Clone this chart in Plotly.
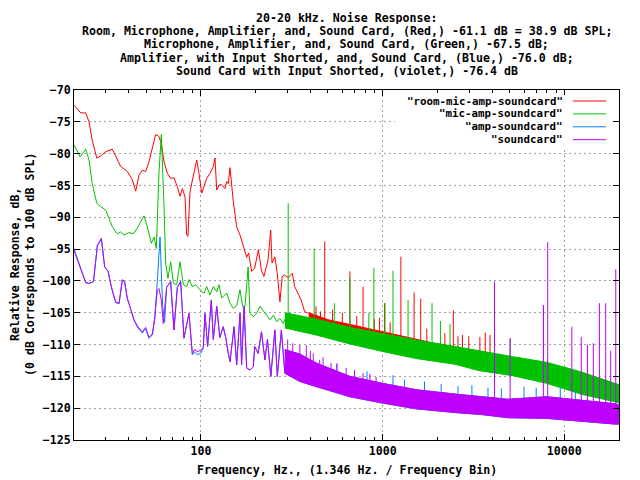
import plotly.graph_objects as go

# ------------------------------------------------------------------
# Data (frequency in Hz, level in dB)
# ------------------------------------------------------------------
# Low-frequency part of each spectrum (individually visible points)
red_f = [20, 21.8, 23.2, 24.2, 25.2, 26.7, 28.0, 29.9, 32.5, 33.9, 36.1, 39.3, 41.9, 43.7,
         45.6, 47.5, 49.6, 51.7, 54.0, 56.3, 58.7, 60.5, 62.6, 65.3, 68.1, 71.0, 74.1, 76.7,
         79.0, 81.7, 83.4, 84.8, 87.0, 90.8, 94.7, 97.5, 100.9, 107.5, 112.1, 116.9, 119.4,
         122.1, 126.1, 130.0, 135.6, 138.5, 141.4, 144.4, 150.6, 157.2, 164.0, 171.0, 178.5,
         183, 190, 197.5, 207, 215, 222, 234, 242, 246, 255, 263, 272, 280, 289, 302, 318,
         328, 343, 356, 372, 392]
red_db = [-72.4, -73.6, -73.6, -75.0, -77.9, -80.7, -80.4, -79.7, -79.3, -80.4, -82.0, -82.8,
          -84.1, -85.9, -83.4, -82.6, -82.8, -81.3, -78.9, -77.0, -77.3, -78.4, -81.3, -83.1,
          -83.9, -83.8, -85.2, -86.7, -85.5, -86.8, -92.8, -93.0, -86.0, -83.6, -81.0, -83.1,
          -86.2, -83.9, -83.1, -82.0, -80.7, -85.7, -84.9, -84.9, -85.5, -84.4, -84.7, -82.2,
          -87.5, -91.5, -92.8, -94.5, -96.3, -95.6, -98.5, -98.0, -95.1, -98.3, -99.3, -96.7,
          -92.0, -97.2, -96.2, -98.8, -103.3, -99.3, -99.1, -99.5, -98.8, -100.9, -102.2,
          -103.0, -104.8, -105.1]

green_f = [20, 21.6, 23.2, 24.2, 25.2, 26.7, 28.0, 29.9, 31.2, 32.5, 34.6, 36.1, 37.7, 40.2,
           42.4, 44.6, 46.6, 48.6, 50.7, 53.3, 55.1, 56.8, 58.7, 60.5, 62.6, 63.9, 65.8, 68.1,
           70.5, 73.5, 76.7, 80.0, 83.4, 85.9, 89.6, 93.5, 97.5, 101.7, 104.3, 107.5, 112.1,
           116.9, 122.1, 125.6, 130.0, 138.5, 144.4, 150.6, 157.2, 164.0, 169.4, 174.7, 181.8,
           186.1, 194.1, 202.6, 211.3, 220.5, 229.9, 239.8, 250.1, 261.0, 272.2, 284, 290]
green_db = [-78.6, -80.5, -79.3, -81.0, -84.7, -87.8, -88.3, -88.9, -90.2, -91.5, -92.6, -92.3,
            -92.8, -92.4, -92.6, -91.7, -90.7, -89.8, -91.5, -94.1, -93.1, -94.9, -83.1, -77.0,
            -88.3, -97.2, -99.6, -97.0, -100.4, -100.6, -97.0, -100.6, -100.9, -99.8, -100.9,
            -100.6, -101.2, -101.8, -101.9, -100.9, -102.2, -100.9, -101.7, -100.6, -102.7,
            -101.9, -103.5, -104.3, -103.9, -101.4, -104.0, -104.0, -97.8, -105.1, -105.6,
            -105.1, -104.0, -104.8, -105.4, -106.1, -105.4, -106.4, -105.9, -106.7, -106.0]

amp_f = [20, 21.3, 22.2, 23.2, 24.2, 25.6, 26.9, 28.3, 29.5, 30.8, 32.1, 33.9, 35.4, 36.9,
         38.0, 39.3, 41.0, 42.8, 45.0, 47.5, 49.6, 51.7, 54.0, 55.6, 57.5, 59.5, 61.5, 63.1,
         64.7, 68.1, 71.0, 74.1, 77.3, 80.6, 85.9, 89.6, 92.3, 95.5, 99.6, 103.0, 105.2, 108.8,
         114.0, 116.9, 122.1, 127.0, 132.6, 136.8, 141.4, 144.4, 152.1, 157.2, 164.0, 167.3,
         172.6, 178.5, 186.1, 194.1, 197.6, 206.3, 215.3, 224.9, 232.3, 242.4, 255.1, 263.2,
         277, 289.4]
amp_db = [-95.0, -97.1, -98.7, -100.2, -100.4, -100.1, -94.5, -93.4, -97.8, -98.5, -101.0,
          -103.4, -103.6, -99.9, -100.2, -102.8, -104.4, -106.2, -107.4, -108.2, -107.5,
          -109.0, -108.5, -106.0, -100.0, -93.1, -104.0, -106.5, -101.0, -100.1, -107.7,
          -101.0, -100.1, -109.0, -105.1, -111.6, -111.2, -111.6, -111.4, -110.6, -105.1,
          -110.3, -103.0, -109.2, -104.0, -108.9, -107.2, -108.9, -111.4, -112.7, -107.2,
          -113.2, -105.1, -113.2, -104.0, -113.7, -114.0, -113.5, -110.3, -111.4, -108.0,
          -112.4, -109.2, -115.0, -107.7, -115.0, -107.7, -114.5]

sc_f = [20, 21.3, 22.2, 23.2, 24.2, 25.6, 26.9, 28.3, 29.5, 30.8, 32.1, 33.9, 35.4, 36.9,
        38.0, 39.3, 41.0, 42.8, 45.0, 47.5, 49.6, 51.7, 54.0, 55.6, 57.5, 58.7, 60.5, 62.0,
        64.7, 68.1, 71.0, 74.1, 77.3, 80.6, 85.9, 89.6, 92.3, 95.5, 99.6, 103.0, 105.2, 108.8,
        114.0, 116.9, 122.1, 127.0, 132.6, 136.8, 141.4, 144.4, 152.1, 157.2, 164.0, 167.3,
        172.6, 178.5, 186.1, 194.1, 197.6, 206.3, 215.3, 224.9, 232.3, 242.4, 255.1, 263.2,
        277, 289.4]
sc_db = [-95.2, -97.2, -98.8, -100.3, -100.4, -100.1, -94.4, -93.3, -97.8, -98.5, -100.9,
         -103.3, -103.5, -99.8, -100.1, -102.7, -104.3, -106.1, -107.2, -108.0, -107.3,
         -108.9, -108.3, -105.9, -101.5, -101.2, -103.0, -106.7, -101.0, -100.1, -107.7,
         -101.0, -100.1, -109.0, -105.1, -111.4, -110.8, -111.1, -110.9, -110.4, -105.1,
         -110.3, -103.0, -109.2, -104.0, -108.9, -107.2, -108.9, -111.4, -112.7, -107.2,
         -113.2, -105.1, -113.2, -104.0, -113.7, -114.0, -113.5, -110.3, -111.4, -108.0,
         -112.4, -109.2, -115.0, -107.7, -115.0, -107.7, -114.5]

# Dense high-frequency noise: lower / upper envelope of each spectrum
red_band_f = [392, 500, 700, 1000, 1500, 2000, 3000, 5000, 8000, 12400, 20000]
red_hi = [-105.0, -106.1, -107.0, -108.0, -109.1, -109.9, -110.8, -111.9, -113.0, -114.5, -116.5]
red_lo = [-107.5, -108.3, -109.5, -110.8, -111.9, -112.4, -113.4, -114.5, -115.6, -117.4, -118.8]

green_band_f = [290, 430, 660, 1000, 1530, 2500, 3400, 5200, 8000, 12400, 19000, 20000]
green_hi = [-105.0, -106.0, -107.3, -108.3, -109.3, -110.3, -111.0, -111.9, -112.8, -114.3,
            -116.1, -116.3]
green_lo = [-107.4, -108.5, -109.9, -111.1, -112.2, -113.1, -114.1, -114.9, -116.1, -117.8,
            -119.0, -119.2]

low_band_f = [289.4, 350, 430, 660, 1000, 1530, 2540, 3500, 4900, 8000, 12400, 19000, 20000]
amp_hi = [-110.8, -111.5, -112.9, -115.0, -116.1, -117.1, -117.8, -118.2, -118.6, -118.2,
          -118.7, -119.3, -119.5]
amp_lo = [-114.5, -115.8, -116.6, -118.2, -119.2, -120.1, -120.7, -121.0, -121.5, -121.6,
          -122.0, -122.5, -122.5]
sc_hi = [-110.8, -111.5, -112.9, -115.0, -116.1, -117.1, -117.8, -118.2, -118.6, -118.2,
         -118.7, -119.3, -119.5]
sc_lo = [-114.5, -115.8, -116.6, -118.2, -119.2, -120.1, -120.7, -121.0, -121.5, -121.6,
         -122.0, -122.5, -122.5]

# Narrow spectral lines: frequency, foot and peak level
red_spk_f = [430, 455, 480, 530, 600, 660, 720, 780, 900, 960, 1025, 1100, 1260, 1490, 1620,
             1750, 2200, 2450, 2600, 2750, 2980, 3430, 3670, 3900]
red_spk_lo = [-107.0, -107.0, -107.0, -107.5, -107.5, -108.0, -108.0, -108.5, -109.0, -109.0,
              -109.5, -109.5, -110.0, -110.0, -110.5, -110.5, -111.0, -111.0, -111.5, -111.5,
              -112.0, -112.0, -112.5, -112.5]
red_spk_hi = [-104.0, -104.8, -93.8, -104.5, -105.0, -98.5, -105.5, -100.9, -106.0, -105.8,
              -103.5, -106.5, -96.2, -101.8, -102.8, -107.5, -108.2, -104.6, -108.7, -108.5,
              -108.7, -108.8, -108.1, -108.5]

green_spk_f = [302, 420, 542, 660, 840, 895, 1030, 1140, 1380, 1870, 2080, 2350, 4130, 5030, 7670]
green_spk_lo = [-106.0, -107.0, -107.5, -108.0, -108.5, -108.5, -109.0, -109.5, -110.0,
                -110.5, -111.0, -111.0, -112.5, -113.0, -114.0]
green_spk_hi = [-87.8, -94.9, -103.5, -99.5, -105.0, -98.0, -103.5, -98.4, -103.0, -103.5,
                -106.3, -106.8, -100.1, -109.0, -103.8]

amp_spk_f = [560, 820, 1140, 1320, 1700, 2100, 2600, 3100, 3800, 4500, 6000, 7000, 9500, 11500]
amp_spk_lo = [-116.5, -117.5, -118.0, -118.5, -118.5, -119.0, -119.0, -119.0, -119.5, -119.5,
              -119.5, -119.5, -119.5, -120.0]
amp_spk_hi = [-113.0, -114.2, -114.8, -115.5, -115.8, -116.2, -116.5, -116.4, -116.8, -116.9,
              -116.6, -116.8, -116.8, -117.2]

sc_spk_f = [300, 320, 350, 380, 400, 415, 450, 470, 520, 560, 630, 700, 780, 850, 920,
            4130, 5030, 7670, 8100, 11000, 12400, 13400, 14440, 15600, 16900, 18000, 19200]
sc_spk_lo = [-113.0, -113.5, -113.5, -114.0, -114.5, -114.5, -115.0, -115.5, -116.0, -116.0,
             -116.5, -117.0, -117.0, -117.5, -117.5,
             -119.5, -119.5, -119.5, -119.5, -120.0, -120.0, -120.0, -120.0, -120.5, -120.5,
             -120.5, -120.5]
sc_spk_hi = [-109.2, -109.8, -110.1, -110.1, -111.0, -111.4, -112.4, -112.0, -112.9, -113.0,
             -113.7, -114.0, -114.5, -114.6, -115.1,
             -100.1, -109.0, -103.8, -93.9, -107.2, -108.8, -110.0, -109.8, -103.5, -103.5,
             -111.0, -98.2]

series_names = ['"room-mic-amp-soundcard"', '"mic-amp-soundcard"', '"amp-soundcard"', '"soundcard"']
x_ticks = [100, 1000, 10000]
title_lines = [
    "20-20 kHz. Noise Response:",
    "Room, Microphone, Amplifier, and, Sound Card, (Red,) -61.1 dB = 38.9 dB SPL;",
    "Microphone, Amplifier, and, Sound Card, (Green,) -67.5 dB;",
    "Amplifier, with Input Shorted, and, Sound Card, (Blue,) -76.0 dB;",
    "Sound Card with Input Shorted, (violet,) -76.4 dB",
]

# ------------------------------------------------------------------
COLORS = ["#ff0000", "#00c000", "#0080ff", "#c000ff"]
FONT = dict(family="DejaVu Sans Mono", size=11.6, color="black", weight="bold")
KEY_FONT = dict(family="DejaVu Sans Mono", size=10.8, color="black", weight="bold")

series = [
    (red_f, red_db, red_band_f, red_lo, red_hi, red_spk_f, red_spk_lo, red_spk_hi),
    (green_f, green_db, green_band_f, green_lo, green_hi, green_spk_f, green_spk_lo, green_spk_hi),
    (amp_f, amp_db, low_band_f, amp_lo, amp_hi, amp_spk_f, amp_spk_lo, amp_spk_hi),
    (sc_f, sc_db, low_band_f, sc_lo, sc_hi, sc_spk_f, sc_spk_lo, sc_spk_hi),
]

fig = go.Figure()
for (tf, tdb, bf, blo, bhi, sf, slo, shi), col in zip(series, COLORS):
    fig.add_trace(go.Scatter(x=tf, y=tdb, mode="lines", line=dict(color=col, width=1),
                             showlegend=False, hoverinfo="skip"))
    fig.add_trace(go.Scatter(x=list(bf) + list(bf)[::-1], y=list(bhi) + list(blo)[::-1],
                             mode="lines", fill="toself", fillcolor=col,
                             line=dict(color=col, width=1), showlegend=False, hoverinfo="skip"))
    xs, ys = [], []
    for f, lo, hi in zip(sf, slo, shi):
        xs += [f, f, None]
        ys += [lo, hi, None]
    fig.add_trace(go.Scatter(x=xs, y=ys, mode="lines", line=dict(color=col, width=1),
                             showlegend=False, hoverinfo="skip"))

# plot area: 74..619 px horizontally, 90..440 px vertically
L, R, T, B = 74, 21, 90, 40
PW, PH = 640 - L - R, 480 - T - B


def px(x):
    return (x - L) / PW


def py(y):
    return (480 - B - y) / PH


annotations = []
for i, line in enumerate(title_lines):
    annotations.append(dict(text=line, x=0.5, y=py(18 + 13.2 * i), xref="paper", yref="paper",
                            xanchor="center", yanchor="middle", showarrow=False, font=FONT,
                            height=12))
annotations.append(dict(text="Frequency, Hz., (1.346 Hz. / Frequency Bin)", x=0.5, y=py(470),
                        xref="paper", yref="paper", xanchor="center", yanchor="middle",
                        showarrow=False, font=FONT))
annotations.append(dict(text="Relative Response, dB,<br>(0 dB Corresponds to 100 dB SPL)",
                        x=px(22), y=0.5, xref="paper", yref="paper", xanchor="center",
                        yanchor="middle", textangle=-90, showarrow=False, font=FONT))

shapes = [dict(type="rect", xref="paper", yref="paper", x0=px(395), x1=px(611), y0=py(147),
               y1=py(95), fillcolor="white", line=dict(width=0), layer="above")]
for i, (name, col) in enumerate(zip(series_names, COLORS)):
    yy = py(101 + 12.9 * i)
    annotations.append(dict(text=name, x=px(564), y=yy, xref="paper", yref="paper",
                            xanchor="right", yanchor="middle", showarrow=False, font=KEY_FONT,
                            height=11, borderpad=0))
    shapes.append(dict(type="line", xref="paper", yref="paper", x0=px(573), x1=px(606),
                       y0=yy, y1=yy, line=dict(color=col, width=1), layer="above"))

minor_vals = [m * 10 ** e for e in range(1, 5) for m in range(2, 10) if 20 <= m * 10 ** e <= 20000]

fig.update_layout(
    width=640, height=480, margin=dict(l=L, r=R, t=T, b=B),
    paper_bgcolor="white", plot_bgcolor="white",
    showlegend=False, annotations=annotations, shapes=shapes,
    font=FONT,
    xaxis=dict(type="log", range=[1.30103, 4.30103], tickvals=x_ticks,
               ticktext=[str(v) for v in x_ticks], ticks="inside", ticklen=6,
               tickcolor="black", showline=True, linecolor="black", linewidth=1,
               mirror="ticks", showgrid=True, gridcolor="#a0a0a0", griddash="2px,3px",
               gridwidth=1, zeroline=False, tickfont=FONT,
               minor=dict(tickvals=minor_vals, ticks="inside", ticklen=3,
                          tickcolor="black", showgrid=False)),
    yaxis=dict(range=[-125, -70], tick0=-125, dtick=5, ticks="inside", ticklen=6,
               tickcolor="black", showline=True, linecolor="black", linewidth=1,
               mirror="ticks", showgrid=True, gridcolor="#a0a0a0", griddash="2px,3px",
               gridwidth=1, zeroline=False, tickfont=FONT),
)

fig.write_html("out.html")
